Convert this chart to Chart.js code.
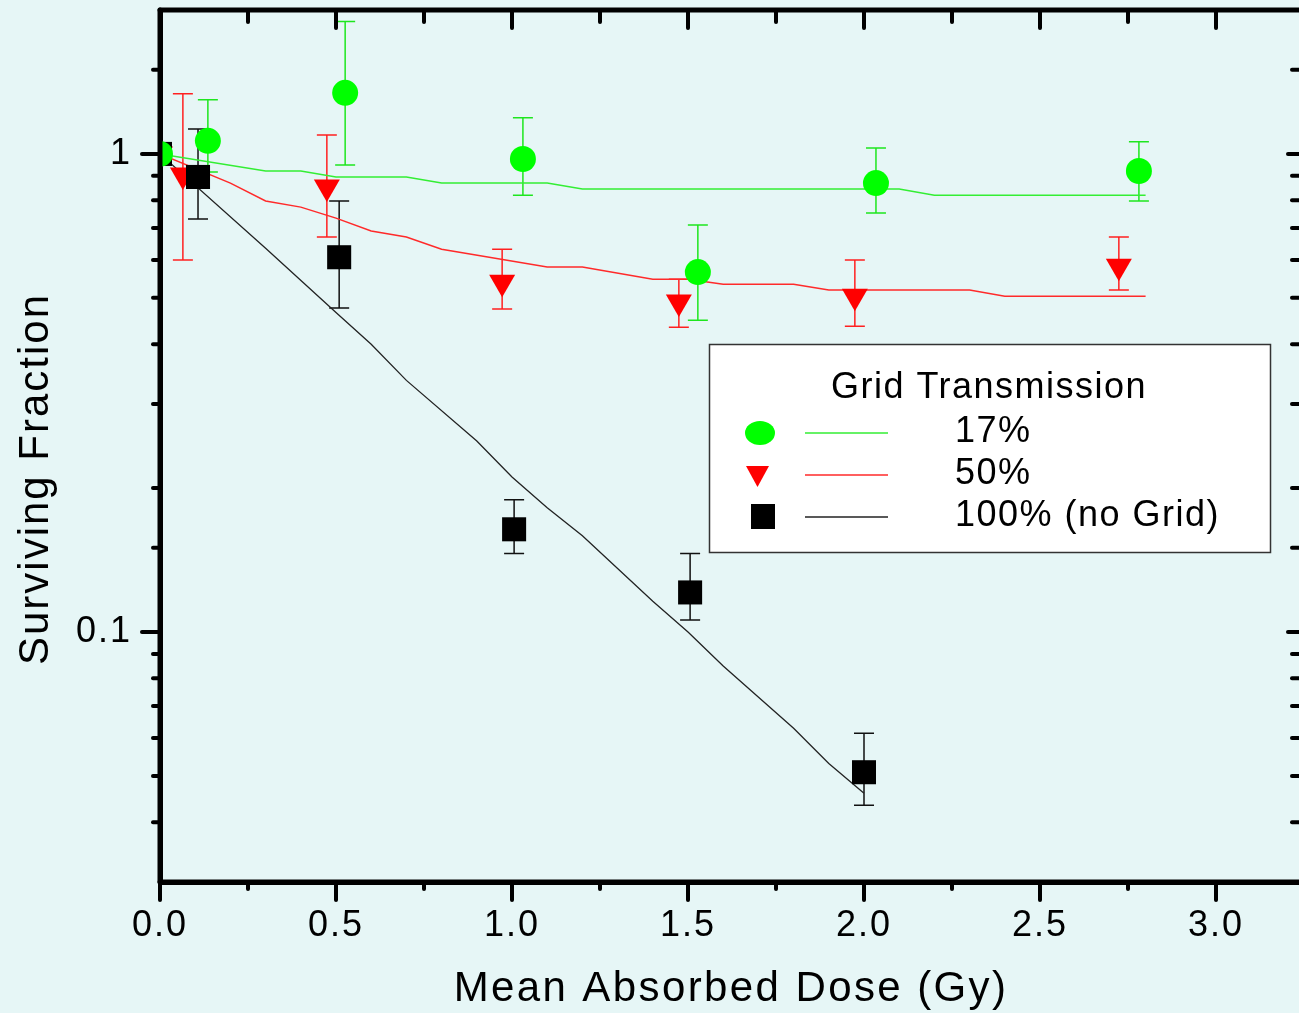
<!DOCTYPE html>
<html>
<head>
<meta charset="utf-8">
<script src="https://cdn.jsdelivr.net/npm/chart.js@4.4.1/dist/chart.umd.min.js"></script>
<style>
  html, body { margin: 0; padding: 0; background: #e6f6f6; overflow: hidden; }
  canvas { display: block; }
</style>
</head>
<body>
<canvas id="chart" width="1306" height="1013"></canvas>
<script>
// measured surviving fraction vs mean absorbed dose (Gy), with error limits
var dose17 = [0, 0.136, 0.526, 1.031, 1.528, 2.034, 2.781];
var sf17   = [1, 1.065, 1.342, 0.976, 0.566, 0.869, 0.921];
var hi17   = [null, 1.298, 1.893, 1.190, 0.710, 1.029, 1.060];
var lo17   = [null, 0.917, 0.948, 0.820, 0.449, 0.752, 0.797];

var dose50 = [0, 0.065, 0.474, 0.972, 1.474, 1.974, 2.724];
var sf50   = [1, 0.904, 0.853, 0.539, 0.490, 0.504, 0.582];
var hi50   = [null, 1.336, 1.096, 0.632, 0.547, 0.600, 0.670];
var lo50   = [null, 0.600, 0.670, 0.474, 0.434, 0.436, 0.519];

var dose100 = [0, 0.108, 0.509, 1.006, 1.506, 2.0];
var sf100   = [1, 0.895, 0.608, 0.164, 0.121, 0.0509];
var hi100   = [null, 1.128, 0.797, 0.189, 0.146, 0.0614];
var lo100   = [null, 0.731, 0.476, 0.146, 0.106, 0.0434];

// model curves
var fitDose17 = [0, 0.3, 0.4, 0.5, 0.7, 0.8, 1.1, 1.2, 2.1, 2.2, 2.8];
var fitSf17   = [1, 0.921, 0.921, 0.895, 0.895, 0.869, 0.869, 0.845, 0.845, 0.820, 0.820];

var fitDose50 = [0, 0.2, 0.3, 0.4, 0.5, 0.6, 0.7, 0.8, 1.1, 1.2, 1.4, 1.5, 1.6, 1.8, 1.9, 2.3, 2.4, 2.8];
var fitSf50   = [1, 0.869, 0.797, 0.774, 0.734, 0.690, 0.670, 0.632, 0.580, 0.580, 0.547, 0.547, 0.534, 0.534, 0.519, 0.519, 0.504, 0.504];

var fitDose100 = [0, 0.3, 0.5, 0.6, 0.7, 0.9, 1.0, 1.1, 1.2, 1.4, 1.5, 1.6, 1.8, 1.9, 2.0];
var fitSf100   = [1, 0.635, 0.466, 0.400, 0.336, 0.251, 0.211, 0.182, 0.159, 0.116, 0.100, 0.0849, 0.0629, 0.0531, 0.0460];

var legendTitle = 'Grid Transmission';
var seriesNames = ['17%', '50%', '100% (no Grid)'];

var FONT = '"Liberation Sans", Arial, sans-serif';
var GREEN = '#00ff00', RED = '#ff0000', BLACK = '#000000';

function pts(xs, ys) {
  return xs.map(function (x, i) { return { x: x, y: ys[i] }; });
}

var bgPlugin = {
  id: 'bg',
  beforeDraw: function (chart) {
    var ctx = chart.ctx;
    ctx.save();
    ctx.fillStyle = '#e6f6f6';
    ctx.fillRect(0, 0, chart.width, chart.height);
    ctx.restore();
    ctx.letterSpacing = '2px';
  }
};

var errorBars = {
  id: 'errorBars',
  beforeDatasetsDraw: function (chart) {
    var ctx = chart.ctx, xs = chart.scales.x, ys = chart.scales.y, a = chart.chartArea;
    ctx.save();
    ctx.beginPath();
    ctx.rect(a.left, a.top, a.right - a.left, a.bottom - a.top);
    ctx.clip();
    ctx.lineWidth = 1.5;
    chart.data.datasets.forEach(function (ds) {
      if (!ds.errHi) return;
      ctx.strokeStyle = ds.errColor;
      ds.data.forEach(function (p, i) {
        if (ds.errHi[i] == null) return;
        var x = xs.getPixelForValue(p.x);
        var yt = ys.getPixelForValue(ds.errHi[i]);
        var yb = ys.getPixelForValue(ds.errLo[i]);
        ctx.beginPath();
        ctx.moveTo(x, yt); ctx.lineTo(x, yb);
        ctx.moveTo(x - 10, yt); ctx.lineTo(x + 10, yt);
        ctx.moveTo(x - 10, yb); ctx.lineTo(x + 10, yb);
        ctx.stroke();
      });
    });
    ctx.restore();
  }
};

// frame: box borders and tick marks on all four sides
var frame = {
  id: 'frame',
  afterDatasetsDraw: function (chart) {
    var ctx = chart.ctx, a = chart.chartArea, xs = chart.scales.x, ys = chart.scales.y;
    function seg(x1, y1, x2, y2) {
      ctx.beginPath(); ctx.moveTo(x1, y1); ctx.lineTo(x2, y2); ctx.stroke();
    }
    ctx.save();
    ctx.strokeStyle = '#000';
    ctx.lineCap = 'round';
    ctx.lineWidth = 5;
    seg(a.left, a.top, a.right, a.top);
    seg(a.right, a.top, a.right, a.bottom);
    seg(a.left, a.top, a.left, a.bottom);
    seg(a.left, a.bottom, a.right, a.bottom);
    ctx.lineWidth = 4;
    xs.ticks.forEach(function (t) {
      var v = t.value;
      var px = xs.getPixelForValue(v);
      var major = Math.abs(v * 2 - Math.round(v * 2)) < 1e-6;
      seg(px, a.bottom, px, a.bottom + (major ? 18 : 7));
      if (v > 0) seg(px, a.top, px, a.top + (major ? 18 : 12));
    });
    ys.ticks.forEach(function (t) {
      var v = t.value;
      if (v <= ys.min + 1e-9 || v >= ys.max - 1e-9) return;
      var py = ys.getPixelForValue(v);
      var lg = Math.log10(v);
      var major = Math.abs(lg - Math.round(lg)) < 1e-6;
      seg(a.left - (major ? 18 : 7), py, a.left, py);
      seg(a.right, py, a.right - (major ? 16 : 12), py);
    });
    ctx.restore();
  }
};

var titles = {
  id: 'titles',
  afterDraw: function (chart) {
    var ctx = chart.ctx;
    ctx.save();
    ctx.fillStyle = '#000';
    ctx.letterSpacing = '2.4px';
    ctx.font = '42px ' + FONT;
    ctx.textAlign = 'center';
    ctx.textBaseline = 'alphabetic';
    ctx.fillText('Mean Absorbed Dose (Gy)', 731, 1001);
    ctx.letterSpacing = '2px';
    ctx.translate(48, 479);
    ctx.rotate(-Math.PI / 2);
    ctx.fillText('Surviving Fraction', 0, 0);
    ctx.restore();
  }
};

var legendBox = {
  id: 'legendBox',
  afterDraw: function (chart) {
    var ctx = chart.ctx;
    var bx = 709, by = 344, bw = 561, bh = 208;
    ctx.save();
    ctx.fillStyle = '#ffffff';
    ctx.fillRect(bx, by, bw, bh);
    ctx.strokeStyle = '#333';
    ctx.lineWidth = 1.5;
    ctx.strokeRect(bx + 0.5, by + 0.5, bw, bh);

    ctx.fillStyle = '#000';
    ctx.letterSpacing = '1.5px';
    ctx.font = '36px ' + FONT;
    ctx.textAlign = 'center';
    ctx.fillText(legendTitle, 989, 398);

    var rows = [433, 475, 517];
    var lineCols = ['#33ee33', '#ff2a2a', '#222'];
    ctx.textAlign = 'left';
    seriesNames.forEach(function (name, i) {
      ctx.fillStyle = '#000';
      ctx.fillText(name, 955, rows[i] + 9);
      ctx.strokeStyle = lineCols[i];
      ctx.lineWidth = 1.5;
      ctx.beginPath(); ctx.moveTo(805, rows[i]); ctx.lineTo(888, rows[i]); ctx.stroke();
    });
    // markers
    ctx.fillStyle = GREEN;
    ctx.beginPath(); ctx.ellipse(760, 433, 15, 12, 0, 0, Math.PI * 2); ctx.fill();
    ctx.fillStyle = RED;
    ctx.beginPath(); ctx.moveTo(746, 466); ctx.lineTo(769, 466); ctx.lineTo(757.5, 487); ctx.closePath(); ctx.fill();
    ctx.fillStyle = BLACK;
    ctx.fillRect(751, 504, 24, 25);
    ctx.restore();
  }
};

new Chart(document.getElementById('chart'), {
  type: 'scatter',
  data: {
    datasets: [
      { label: seriesNames[0], data: pts(dose17, sf17), errHi: hi17, errLo: lo17, errColor: '#1ee61e',
        backgroundColor: GREEN, pointStyle: 'circle', pointRadius: 13, pointBorderWidth: 0,
        showLine: false, order: 1, clip: 0 },
      { label: seriesNames[2], data: pts(dose100, sf100), errHi: hi100, errLo: lo100, errColor: '#111',
        backgroundColor: BLACK, pointStyle: 'rect', pointRadius: 17, pointBorderWidth: 0,
        showLine: false, order: 2, clip: 0 },
      { label: seriesNames[1], data: pts(dose50, sf50), errHi: hi50, errLo: lo50, errColor: '#ff2020',
        backgroundColor: RED, pointStyle: 'triangle', pointRadius: 15, pointRotation: 180, pointBorderWidth: 0,
        showLine: false, order: 3, clip: 0 },
      { label: 'fit 17', data: pts(fitDose17, fitSf17), showLine: true, borderColor: '#33ee33',
        borderWidth: 1.5, pointRadius: 0, tension: 0, order: 5, clip: 0 },
      { label: 'fit 50', data: pts(fitDose50, fitSf50), showLine: true, borderColor: '#ff2a2a',
        borderWidth: 1.5, pointRadius: 0, tension: 0, order: 6, clip: 0 },
      { label: 'fit 100', data: pts(fitDose100, fitSf100), showLine: true, borderColor: '#222',
        borderWidth: 1.3, pointRadius: 0, tension: 0, order: 7, clip: 0 }
    ]
  },
  options: {
    responsive: false,
    animation: false,
    devicePixelRatio: 1,
    layout: { autoPadding: false, padding: { top: 10, right: 2, left: 0, bottom: 0 } },
    plugins: { legend: { display: false }, tooltip: { enabled: false } },
    scales: {
      x: {
        type: 'linear',
        min: 0,
        max: 3.25,
        afterFit: function (s) {
          s.height = 131;
          s.paddingLeft = 0; s.paddingRight = 0; s.paddingTop = 0; s.paddingBottom = 0;
        },
        border: { display: true, color: '#000', width: 5 },
        grid: { display: true, drawOnChartArea: false, drawTicks: true, tickLength: 18, tickColor: 'rgba(0,0,0,0)' },
        ticks: {
          stepSize: 0.25,
          autoSkip: false,
          maxRotation: 0,
          padding: 4,
          color: '#000',
          font: { family: FONT, size: 36 },
          callback: function (v) {
            var m = Math.abs(v * 2 - Math.round(v * 2)) < 1e-6;
            return (m && v <= 3.0001) ? Number(v).toFixed(1) : '';
          }
        }
      },
      y: {
        type: 'logarithmic',
        min: 0.03,
        max: 2,
        afterFit: function (s) {
          s.width = 160;
          s.paddingLeft = 0; s.paddingRight = 0; s.paddingTop = 0; s.paddingBottom = 0;
        },
        border: { display: true, color: '#000', width: 5 },
        grid: { display: true, drawOnChartArea: false, drawTicks: true, tickLength: 20, tickColor: 'rgba(0,0,0,0)' },
        ticks: {
          autoSkip: false,
          padding: 8,
          color: '#000',
          font: { family: FONT, size: 36 },
          callback: function (v) {
            if (Math.abs(v - 1) < 1e-9) return '1';
            if (Math.abs(v - 0.1) < 1e-9) return '0.1';
            return '';
          }
        }
      }
    }
  },
  plugins: [bgPlugin, errorBars, frame, titles, legendBox]
});
</script>
</body>
</html>
